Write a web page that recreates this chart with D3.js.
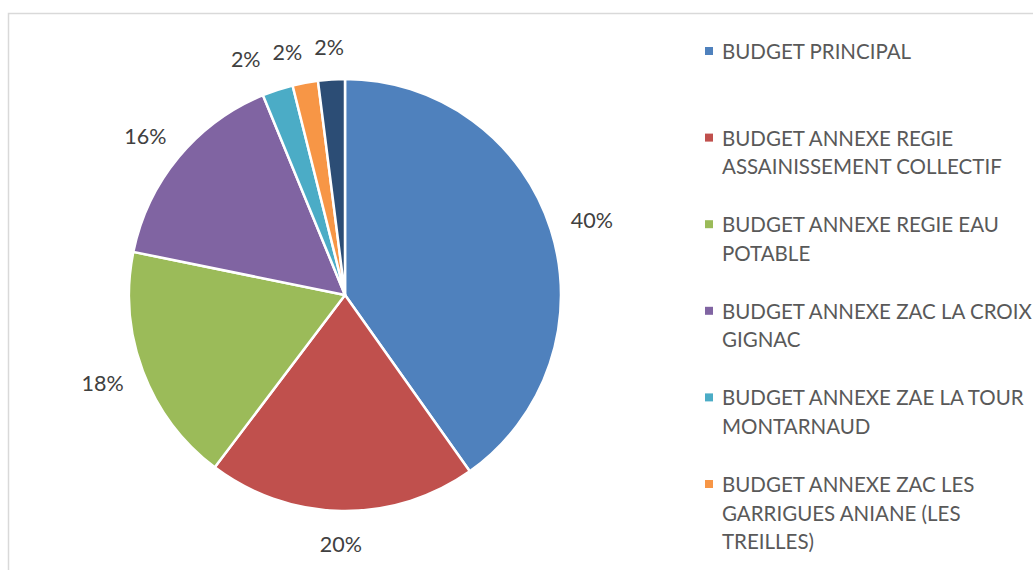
<!DOCTYPE html>
<html>
<head>
<meta charset="utf-8">
<script src="https://cdn.jsdelivr.net/npm/d3@7"></script>
<style>
  html, body { margin: 0; padding: 0; background: #fff; overflow: hidden; }
  svg { display: block; }
</style>
</head>
<body>
<svg id="chart" width="1033" height="570"></svg>
<script>
const categories = [
  "BUDGET PRINCIPAL",
  "BUDGET ANNEXE REGIE ASSAINISSEMENT COLLECTIF",
  "BUDGET ANNEXE REGIE EAU POTABLE",
  "BUDGET ANNEXE ZAC LA CROIX GIGNAC",
  "BUDGET ANNEXE ZAE LA TOUR MONTARNAUD",
  "BUDGET ANNEXE ZAC LES GARRIGUES ANIANE (LES TREILLES)",
  "BUDGET ANNEXE ZA"
];
const values = [40.2, 20.1, 17.9, 15.6, 2.3, 1.9, 2.0];
const colors = ["#4F81BD", "#C0504D", "#9BBB59", "#8064A2", "#4BACC6", "#F79646", "#2C4D75"];

const W = 1033, H = 570;
const svg = d3.select("#chart");
const FONT = "Lato, 'Open Sans', sans-serif";

// frame
svg.append("rect")
  .attr("x", 8.5).attr("y", 13.5)
  .attr("width", W + 20).attr("height", H + 20)
  .attr("fill", "none").attr("stroke", "#d9d9d9").attr("stroke-width", 1.5);

const cx = 345, cy = 295, R = 216;
const g = svg.append("g").attr("transform", `translate(${cx},${cy})`);

const total = d3.sum(values);
const pie = d3.pie().sort(null).value(d => d)(values);
const arc = d3.arc().innerRadius(0).outerRadius(R);

g.selectAll("path.slice").data(pie).enter().append("path")
  .attr("class", "slice")
  .attr("d", arc)
  .attr("fill", (d, i) => colors[i])
  .attr("stroke", "#fff").attr("stroke-width", 2.5).attr("stroke-linejoin", "round");

// percent labels outside end
const fmt = v => Math.round(v / total * 100) + "%";
const labelR = R + 22;
const pfs = 21.5;
const labels = pie.map((d, i) => {
  const a = (d.startAngle + d.endAngle) / 2;
  const dx = Math.sin(a), dy = -Math.cos(a);
  const t = g.append("text")
    .attr("font-family", FONT).attr("font-size", pfs).attr("fill", "#404040")
    .attr("text-anchor", "middle").attr("dominant-baseline", "central")
    .text(fmt(d.value));
  const w = t.node().getComputedTextLength(), h = pfs;
  return { t, w, h, x: labelR * dx + dx * w / 2, y: labelR * dy + dy * h / 2 };
});
// simple collision avoidance: push overlapping labels leftwards (counter-clockwise)
const gap = 12;
for (let i = labels.length - 2; i >= 0; i--) {
  const a = labels[i], b = labels[i + 1];
  const vOverlap = Math.abs(a.y - b.y) < (a.h + b.h) / 2;
  const minDist = (a.w + b.w) / 2 + gap;
  if (vOverlap && a.x < b.x + 1 && b.x - a.x < minDist) {
    a.x = b.x - minDist;
    a.y = Math.max(a.y, b.y + 5);
  }
}
labels.forEach(l => l.t.attr("x", l.x).attr("y", l.y));

// legend
const legX = 705, legTextX = 722, legY0 = 51, legStep = 86.6, lineH = 28.5, maxW = 312;
const lfs = 20.5;
const measure = svg.append("text").attr("font-family", FONT).attr("font-size", lfs).attr("visibility", "hidden");
function wrap(str) {
  const words = str.split(" ");
  const lines = [];
  let cur = "";
  words.forEach(wd => {
    const test = cur ? cur + " " + wd : wd;
    measure.text(test);
    if (measure.node().getComputedTextLength() > maxW && cur) { lines.push(cur); cur = wd; }
    else cur = test;
  });
  if (cur) lines.push(cur);
  return lines;
}
categories.forEach((c, i) => {
  const y = legY0 + i * legStep;
  if (y > H - 12) return;
  svg.append("rect").attr("x", legX).attr("y", y - 4).attr("width", 8).attr("height", 8).attr("fill", colors[i]);
  const lines = wrap(c);
  const t = svg.append("text").attr("font-family", FONT).attr("font-size", lfs).attr("fill", "#595959");
  lines.forEach((ln, k) => {
    t.append("tspan").attr("x", legTextX).attr("y", y + k * lineH).attr("dominant-baseline", "central").text(ln);
  });
});
measure.remove();
</script>
</body>
</html>
